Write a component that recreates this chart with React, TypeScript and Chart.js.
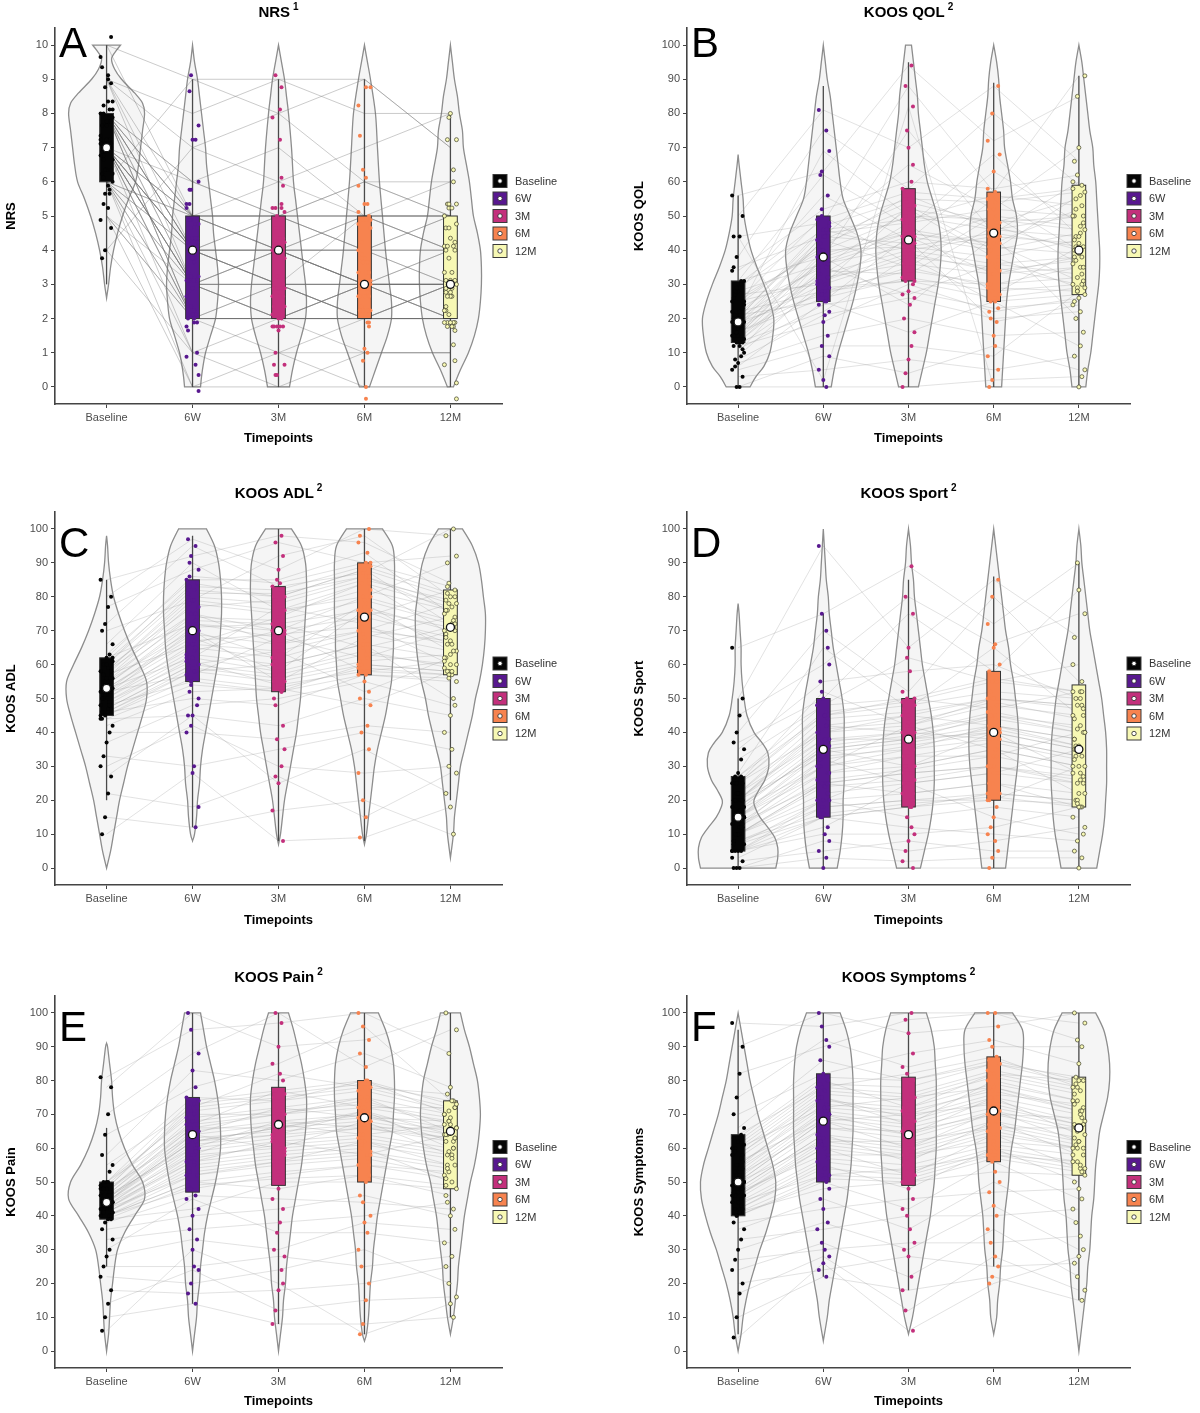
import { useEffect, useRef } from "react";
import { Chart, registerables } from "chart.js";

Chart.register(...registerables);

const FONT = "'Liberation Sans', Arial, Helvetica, sans-serif";

const timepoints = ["Baseline", "6W", "3M", "6M", "12M"];
const groupColors = ["#050505", "#58188f", "#c3307c", "#f7834f", "#f7f8b4"];

// ---- NRS (0–10). One row per patient: Baseline, 6W, 3M, 6M, 12M ----
const nrsScores = [
  [10, 9, 9, 8, 8], [10, 5, 4, 5, 5], [9, 8, 9, 9, 7], [9, 7, 8, 6, 6],
  [9, 4, 3, 3, 3], [8, 6, 7, 5, 5], [8, 5, 5, 4, 4], [8, 3, 2, 2, 2],
  [8, 2, 2, 3, 3], [8, 5, 6, 5, 5], [8, 4, 4, 3, 4], [8, 6, 5, 6, 5],
  [7, 5, 5, 5, 6], [7, 4, 3, 3, 3], [7, 3, 2, 2, 2], [7, 1, 0, 1, 1],
  [7, 5, 4, 4, 4], [7, 2, 3, 2, 3], [7, 4, 5, 5, 4], [7, 3, 3, 2, 2],
  [6, 0, 1, 0, 0], [6, 2, 2, 2, 2], [6, 3, 4, 3, 3], [6, 9, 8, 9, 7],
  [6, 5, 5, 5, 5], [6, 1, 1, 1, 1], [6, 4, 4, 4, 3], [5, 2, 2, 3, 2],
  [5, 3, 3, 2, 3], [5, 0, 0, 0, 0], [4, 1, 2, 1, 1], [4, 7, 6, 7, 8],
  [8, 4, 3, 3, 2], [8, 2, 3, 2, 3], [7, 4, 4, 3, 3], [7, 3, 4, 4, 3],
  [7, 5, 5, 4, 5], [7, 2, 2, 2, 2], [8, 3, 3, 3, 3], [6, 4, 3, 2, 2],
  [7, 4, 4, 3, 4], [8, 5, 4, 5, 4], [6, 3, 2, 2, 2], [7, 2, 2, 3, 2],
  [8, 4, 5, 4, 5], [7, 3, 3, 3, 3], [6, 2, 2, 2, 3], [9, 5, 5, 5, 5],
  [7, 4, 4, 4, 4], [8, 2, 2, 2, 2], [6, 5, 4, 3, 3], [7, 3, 4, 3, 2],
  [8, 4, 3, 5, 4], [5, 2, 1, 2, 2], [7, 6, 5, 6, 5], [9, 3, 2, 3, 3],
];
// [whisker low, Q1, median, Q3, whisker high] per timepoint
const nrsBoxStats = [
  [3, 6, 7, 8, 10], [0, 2, 4, 5, 9], [0, 2, 4, 5, 9], [0, 2, 3, 5, 9], [0, 2, 3, 5, 8],
];
// violin density profiles: [score, relative half-width]
const nrsViolins = [
  [[2.6, 0], [3, 2], [3.5, 4], [4, 7], [4.5, 11], [5, 16], [5.5, 22], [6, 29], [6.5, 32], [7, 34], [7.5, 36], [8, 38], [8.3, 36], [8.6, 28], [9, 15], [9.3, 8], [9.6, 5], [9.85, 10], [10, 14]],
  [[0, 8], [0.3, 9], [0.7, 11], [1, 13], [1.5, 18], [2, 23], [2.5, 25], [3, 26], [3.5, 25], [4, 23], [4.5, 21], [5, 20], [5.5, 18], [6, 16], [6.5, 14], [7, 13], [7.5, 11], [8, 9], [8.5, 7], [9, 5], [9.5, 2], [10, 0]],
  [[0, 11], [0.5, 14], [1, 18], [1.5, 23], [2, 27], [2.5, 28], [3, 27], [3.5, 25], [4, 23], [4.5, 21], [5, 19], [5.5, 17], [6, 15], [7, 13], [8, 10], [8.5, 8], [9, 6], [9.5, 3], [10, 0]],
  [[0, 5], [0.5, 11], [1, 17], [1.5, 23], [2, 27], [2.5, 27], [3, 25], [3.5, 23], [4, 21], [5, 18], [6, 15], [7, 13], [8, 11], [9, 6], [9.5, 3], [10, 0]],
  [[0, 3], [0.5, 10], [1, 18], [1.5, 24], [2, 28], [2.5, 30], [3, 31], [3.5, 31], [4, 30], [4.5, 27], [5, 23], [5.5, 21], [6, 19], [6.5, 16], [7, 13], [7.5, 12], [8, 9], [8.5, 7], [9, 4], [9.5, 2], [10, 0]],
];

// ---- KOOS QOL (0–100) ----
const qolScores = [
  [56, 63, 94, 72, 85], [50, 81, 70, 88, 66], [44, 48, 88, 57, 91], [38, 75, 58, 80, 59],
  [35, 44, 65, 52, 70], [31, 62, 47, 68, 44], [31, 38, 75, 45, 60], [28, 56, 43, 63, 48],
  [27, 30, 53, 40, 56], [25, 50, 36, 55, 40], [25, 41, 56, 46, 50], [22, 69, 50, 49, 46],
  [21, 25, 44, 33, 38], [20, 46, 40, 44, 42], [19, 33, 48, 27, 41], [19, 43, 35, 50, 36],
  [18, 37, 45, 42, 31], [16, 28, 31, 30, 35], [15, 40, 41, 38, 29], [14, 34, 33, 47, 40],
  [13, 22, 38, 25, 27], [13, 35, 27, 36, 33], [12, 19, 30, 22, 26], [10, 38, 24, 44, 20],
  [9, 31, 43, 19, 24], [7, 15, 20, 15, 16], [6, 25, 16, 25, 12], [5, 12, 12, 9, 28],
  [3, 5, 8, 5, 9], [0, 9, 4, 12, 5], [0, 0, 0, 2, 3], [44, 2, 82, 0, 0],
  [24, 42, 52, 48, 55], [18, 30, 38, 35, 30], [15, 45, 48, 52, 50], [28, 36, 44, 40, 45],
  [22, 28, 34, 30, 32], [13, 33, 40, 36, 38], [20, 47, 55, 54, 57], [16, 26, 32, 28, 30],
  [26, 40, 50, 46, 44], [14, 38, 46, 42, 52], [30, 49, 57, 55, 58], [17, 32, 36, 33, 35],
  [21, 44, 42, 50, 47], [19, 27, 35, 29, 28], [23, 35, 52, 38, 43], [12, 29, 31, 26, 29],
  [29, 46, 49, 56, 53], [15, 39, 45, 41, 39], [25, 31, 39, 34, 37], [18, 43, 54, 48, 50],
  [20, 36, 41, 45, 41], [8, 21, 26, 20, 22], [34, 52, 60, 58, 62], [11, 24, 28, 23, 25],
];
const qolBoxStats = [
  [0, 13, 19, 31, 56], [0, 25, 38, 50, 88], [0, 31, 43, 58, 95], [0, 25, 45, 57, 89], [0, 27, 40, 59, 91],
];
const qolViolins = [
  [[0, 12], [3, 18], [6, 26], [10, 32], [15, 35], [20, 36], [25, 32], [30, 26], [35, 19], [40, 13], [45, 9], [50, 6], [55, 5], [60, 3], [65, 1], [68, 0]],
  [[0, 8], [5, 11], [10, 15], [15, 20], [20, 25], [25, 30], [30, 34], [35, 37], [40, 38], [45, 34], [50, 27], [55, 20], [60, 17], [65, 15], [70, 13], [75, 11], [80, 9], [85, 7], [90, 4], [95, 2], [100, 0]],
  [[0, 10], [5, 14], [10, 18], [15, 21], [20, 24], [25, 27], [30, 30], [35, 32], [40, 33], [45, 32], [50, 29], [55, 24], [60, 19], [65, 16], [70, 14], [75, 12], [80, 10], [85, 9], [90, 7], [95, 5], [100, 3]],
  [[0, 8], [5, 9], [10, 10], [15, 11], [20, 12], [25, 13], [30, 15], [35, 18], [40, 21], [45, 24], [50, 23], [55, 19], [60, 17], [65, 14], [70, 11], [75, 10], [80, 8], [85, 6], [90, 5], [95, 3], [100, 0]],
  [[0, 7], [5, 9], [10, 12], [15, 14], [20, 16], [25, 18], [30, 20], [35, 21], [40, 21], [45, 20], [50, 19], [55, 18], [60, 17], [65, 15], [70, 14], [75, 11], [80, 9], [85, 7], [90, 5], [95, 3], [100, 0]],
];

// ---- KOOS ADL (0–100) ----
const adlScores = [
  [85, 92, 98, 96, 84], [80, 97, 88, 100, 98], [77, 88, 96, 90, 92], [72, 95, 83, 87, 100],
  [70, 79, 92, 98, 80], [66, 90, 76, 80, 90], [63, 85, 85, 93, 75], [62, 72, 70, 74, 82],
  [60, 82, 80, 88, 72], [58, 75, 66, 70, 78], [57, 66, 74, 84, 69], [55, 70, 62, 78, 64],
  [54, 73, 72, 65, 71], [53, 62, 77, 72, 60], [53, 68, 58, 76, 66], [52, 57, 68, 62, 70],
  [51, 70, 55, 68, 74], [50, 64, 70, 58, 57], [48, 55, 52, 60, 58], [47, 60, 64, 52, 62],
  [46, 50, 48, 57, 55], [45, 58, 60, 66, 50], [44, 45, 42, 50, 45], [42, 52, 53, 48, 58],
  [40, 40, 38, 42, 40], [37, 48, 50, 55, 48], [33, 30, 35, 40, 35], [30, 42, 30, 28, 30],
  [27, 45, 25, 35, 22], [22, 18, 27, 15, 28], [15, 12, 17, 20, 10], [10, 28, 8, 9, 18],
  [56, 78, 75, 82, 76], [49, 63, 60, 66, 62], [60, 84, 80, 88, 80], [46, 58, 55, 60, 58],
  [52, 71, 72, 76, 71], [58, 80, 78, 85, 79], [47, 60, 57, 63, 60], [55, 75, 70, 80, 73],
  [50, 66, 64, 70, 67], [61, 83, 82, 89, 81], [48, 62, 58, 64, 59], [54, 72, 68, 77, 70],
  [57, 79, 76, 84, 77], [45, 56, 53, 59, 57], [53, 69, 66, 74, 68], [59, 77, 79, 86, 78],
  [51, 65, 62, 69, 64], [46, 59, 56, 61, 63], [62, 86, 84, 90, 83], [49, 61, 54, 58, 61],
  [56, 74, 73, 79, 72], [52, 67, 69, 71, 66], [44, 54, 52, 57, 56], [58, 81, 81, 86, 76],
];
const adlBoxStats = [
  [20, 45, 53, 62, 85], [12, 55, 70, 85, 98], [8, 52, 70, 83, 100], [8, 57, 74, 90, 100], [20, 57, 71, 82, 100],
];
const adlViolins = [
  [[0, 0], [5, 4], [10, 7], [15, 10], [20, 13], [25, 17], [30, 21], [35, 26], [40, 31], [45, 36], [50, 40], [55, 40], [60, 33], [65, 25], [70, 18], [75, 12], [80, 7], [85, 4], [90, 2], [95, 1], [98, 0]],
  [[8, 0], [10, 2], [15, 4], [20, 5], [25, 7], [30, 8], [35, 10], [40, 13], [45, 16], [50, 19], [55, 22], [60, 25], [65, 27], [70, 28], [75, 29], [80, 29], [85, 28], [90, 26], [95, 22], [100, 14]],
  [[7, 0], [10, 2], [15, 4], [20, 6], [25, 9], [30, 12], [35, 15], [40, 18], [45, 20], [50, 22], [55, 23], [60, 24], [65, 25], [70, 26], [75, 27], [80, 28], [85, 28], [90, 27], [95, 23], [100, 13]],
  [[7, 0], [10, 2], [15, 4], [20, 6], [25, 8], [30, 10], [35, 13], [40, 17], [45, 21], [50, 24], [55, 27], [60, 28], [65, 29], [70, 29], [75, 30], [80, 30], [85, 30], [90, 30], [95, 28], [100, 18]],
  [[3, 0], [10, 3], [15, 4], [20, 6], [25, 8], [30, 10], [35, 14], [40, 18], [45, 22], [50, 25], [55, 29], [60, 32], [65, 34], [70, 35], [75, 35], [80, 33], [85, 31], [90, 28], [95, 22], [100, 12]],
];

// ---- KOOS Sport (0–100) ----
const sportScores = [
  [65, 75, 89, 72, 90], [50, 95, 65, 85, 68], [45, 60, 80, 66, 75], [40, 70, 52, 80, 55],
  [37, 50, 75, 58, 82], [35, 55, 58, 60, 50], [32, 48, 62, 55, 60], [28, 65, 47, 65, 45],
  [27, 45, 50, 47, 52], [25, 52, 42, 50, 48], [25, 40, 45, 42, 38], [22, 38, 38, 45, 40],
  [20, 42, 40, 38, 33], [20, 33, 35, 42, 36], [18, 35, 38, 40, 35], [17, 30, 42, 35, 30],
  [15, 28, 33, 33, 40], [15, 35, 30, 40, 28], [13, 25, 28, 30, 25], [12, 32, 25, 28, 35],
  [10, 20, 30, 35, 22], [10, 25, 22, 25, 18], [8, 18, 20, 20, 30], [7, 15, 18, 22, 20],
  [5, 20, 15, 18, 15], [5, 12, 25, 15, 10], [5, 10, 10, 12, 18], [3, 15, 12, 10, 8],
  [2, 5, 8, 5, 5], [0, 8, 5, 8, 12], [0, 3, 2, 3, 3], [0, 0, 0, 0, 0],
  [15, 30, 35, 38, 33], [20, 40, 42, 48, 45], [10, 22, 25, 28, 25], [25, 45, 48, 52, 50],
  [5, 18, 20, 22, 20], [18, 35, 38, 42, 38], [12, 28, 30, 35, 30], [22, 42, 45, 50, 48],
  [8, 16, 19, 21, 18], [15, 32, 36, 40, 35], [27, 48, 50, 56, 52], [10, 25, 28, 30, 27],
  [20, 38, 40, 45, 42], [5, 15, 18, 20, 19], [13, 30, 33, 37, 32], [17, 36, 39, 44, 40],
  [25, 46, 49, 55, 52], [7, 20, 22, 25, 22], [15, 34, 37, 41, 36], [12, 26, 29, 33, 28],
  [22, 44, 46, 50, 47], [10, 24, 26, 30, 26], [18, 37, 40, 46, 41], [20, 41, 43, 49, 44],
];
const sportBoxStats = [
  [0, 5, 15, 27, 50], [0, 15, 35, 50, 75], [0, 18, 38, 50, 85], [0, 20, 40, 58, 86], [0, 18, 35, 54, 90],
];
const sportViolins = [
  [[0, 38], [3, 40], [6, 40], [9, 37], [12, 30], [15, 22], [18, 17], [20, 16], [23, 21], [26, 27], [30, 31], [34, 30], [37, 24], [40, 16], [45, 9], [50, 6], [55, 4], [60, 3], [65, 3], [70, 2], [75, 1], [78, 0]],
  [[0, 14], [5, 17], [10, 19], [15, 20], [20, 20], [25, 21], [30, 21], [35, 21], [40, 21], [45, 21], [50, 19], [55, 16], [60, 13], [65, 10], [70, 8], [75, 6], [80, 5], [85, 3], [90, 2], [95, 1], [100, 0]],
  [[0, 12], [5, 16], [10, 20], [15, 23], [20, 25], [25, 26], [30, 26], [35, 26], [40, 25], [45, 23], [50, 20], [55, 17], [60, 14], [65, 12], [70, 10], [75, 8], [80, 6], [85, 5], [90, 3], [95, 2], [100, 0]],
  [[0, 12], [5, 14], [10, 16], [15, 18], [20, 20], [25, 22], [30, 24], [35, 25], [40, 25], [45, 24], [50, 22], [55, 20], [60, 17], [65, 15], [70, 12], [75, 10], [80, 8], [85, 6], [90, 4], [95, 2], [100, 0]],
  [[0, 18], [5, 21], [10, 24], [15, 26], [20, 27], [25, 28], [30, 28], [35, 28], [40, 27], [45, 25], [50, 23], [55, 20], [60, 17], [65, 14], [70, 11], [75, 9], [80, 7], [85, 5], [90, 3], [95, 2], [100, 0]],
];

// ---- KOOS Pain (0–100) ----
const painScores = [
  [81, 95, 97, 100, 88], [78, 100, 90, 92, 100], [70, 88, 100, 84, 95], [64, 78, 85, 96, 74],
  [58, 83, 80, 88, 78], [55, 72, 82, 78, 76], [53, 75, 74, 80, 70], [50, 67, 77, 72, 72],
  [50, 70, 70, 75, 65], [48, 64, 72, 69, 68], [47, 66, 66, 70, 62], [46, 60, 68, 66, 66],
  [45, 62, 64, 71, 60], [44, 58, 67, 64, 67], [44, 64, 60, 68, 58], [43, 56, 62, 58, 64],
  [42, 52, 56, 62, 55], [41, 55, 58, 60, 50], [40, 48, 52, 55, 53], [40, 50, 48, 52, 46],
  [39, 42, 50, 50, 48], [38, 46, 45, 44, 42], [36, 40, 42, 46, 40], [33, 36, 38, 40, 44],
  [30, 45, 35, 35, 32], [28, 33, 30, 38, 36], [25, 25, 28, 25, 28], [22, 20, 24, 30, 20],
  [18, 17, 18, 20, 25], [14, 24, 12, 15, 16], [10, 14, 8, 8, 10], [6, 30, 20, 5, 14],
  [44, 62, 66, 68, 64], [40, 52, 55, 57, 52], [48, 72, 75, 78, 72], [42, 58, 60, 62, 58],
  [46, 66, 70, 72, 68], [39, 49, 51, 52, 49], [50, 74, 77, 80, 73], [43, 60, 63, 66, 62],
  [45, 64, 67, 69, 65], [41, 54, 57, 59, 55], [47, 69, 72, 75, 70], [44, 61, 64, 66, 63],
  [42, 56, 59, 61, 57], [49, 71, 74, 77, 71], [40, 50, 53, 55, 51], [45, 65, 68, 70, 66],
  [43, 59, 62, 64, 60], [47, 68, 71, 73, 69], [41, 53, 56, 58, 54], [46, 67, 70, 74, 67],
  [44, 63, 65, 67, 63], [48, 73, 76, 79, 74], [42, 57, 61, 63, 59], [45, 62, 66, 71, 64],
];
const painBoxStats = [
  [25, 39, 44, 50, 66], [14, 47, 64, 75, 100], [8, 49, 67, 78, 100], [5, 50, 69, 80, 100], [10, 48, 65, 74, 100],
];
const painViolins = [
  [[0, 0], [5, 2], [10, 3], [15, 4], [20, 6], [25, 8], [30, 11], [35, 18], [40, 28], [45, 38], [50, 36], [55, 26], [60, 18], [65, 12], [70, 8], [75, 6], [80, 5], [85, 3], [90, 1], [91, 0]],
  [[0, 0], [5, 2], [10, 4], [15, 5], [20, 7], [25, 8], [30, 10], [35, 12], [40, 15], [45, 19], [50, 23], [55, 26], [60, 28], [65, 28], [70, 27], [75, 25], [80, 22], [85, 18], [90, 14], [95, 11], [100, 8]],
  [[0, 0], [5, 2], [10, 4], [15, 5], [20, 7], [25, 8], [30, 10], [35, 12], [40, 14], [45, 17], [50, 20], [55, 23], [60, 25], [65, 27], [70, 28], [75, 28], [80, 26], [85, 23], [90, 19], [95, 15], [100, 10]],
  [[3, 0], [5, 2], [10, 4], [15, 5], [20, 6], [25, 8], [30, 9], [35, 11], [40, 13], [45, 16], [50, 19], [55, 22], [60, 25], [65, 28], [70, 29], [75, 30], [80, 30], [85, 29], [90, 26], [95, 21], [100, 14]],
  [[5, 0], [10, 3], [15, 5], [20, 7], [25, 8], [30, 10], [35, 12], [40, 14], [45, 17], [50, 20], [55, 24], [60, 27], [65, 29], [70, 30], [75, 29], [80, 27], [85, 23], [90, 19], [95, 14], [100, 10]],
];

// ---- KOOS Symptoms (0–100) ----
const symptomScores = [
  [97, 96, 100, 100, 92], [90, 100, 94, 96, 100], [82, 90, 98, 100, 97], [75, 92, 84, 90, 90],
  [70, 82, 88, 92, 85], [66, 86, 80, 85, 81], [64, 78, 82, 87, 78], [62, 80, 72, 82, 80],
  [60, 72, 75, 78, 71], [58, 75, 67, 80, 74], [56, 68, 70, 73, 67], [54, 70, 64, 75, 64],
  [52, 66, 65, 70, 69], [50, 68, 60, 71, 62], [50, 62, 62, 66, 66], [48, 64, 56, 68, 58],
  [47, 58, 58, 62, 60], [46, 60, 52, 64, 54], [44, 52, 54, 58, 56], [42, 55, 48, 60, 50],
  [41, 48, 50, 53, 52], [40, 50, 42, 56, 45], [38, 42, 45, 47, 48], [36, 45, 36, 50, 38],
  [33, 36, 40, 40, 42], [30, 38, 30, 43, 30], [27, 30, 32, 32, 34], [24, 32, 22, 36, 22],
  [20, 24, 28, 25, 26], [17, 28, 12, 28, 18], [10, 22, 18, 22, 15], [4, 26, 6, 20, 28],
  [50, 68, 64, 71, 66], [45, 60, 57, 64, 60], [55, 72, 70, 78, 72], [42, 54, 52, 59, 55],
  [60, 78, 76, 83, 78], [48, 64, 61, 68, 63], [52, 70, 67, 74, 68], [40, 51, 50, 57, 53],
  [63, 81, 80, 86, 80], [46, 62, 59, 66, 61], [57, 74, 72, 79, 74], [44, 57, 55, 61, 58],
  [53, 71, 68, 75, 70], [49, 66, 63, 70, 65], [58, 76, 74, 81, 76], [41, 52, 51, 58, 54],
  [55, 73, 71, 77, 71], [47, 63, 60, 67, 62], [61, 79, 78, 85, 79], [43, 56, 53, 60, 56],
  [51, 69, 66, 72, 67], [59, 77, 75, 82, 77], [46, 61, 58, 65, 60], [54, 75, 69, 76, 73],
];
const symptomBoxStats = [
  [5, 40, 50, 64, 95], [22, 50, 68, 82, 100], [18, 49, 64, 81, 100], [25, 56, 71, 87, 100], [15, 52, 66, 81, 100],
];
const symptomViolins = [
  [[0, 0], [5, 3], [10, 5], [15, 8], [20, 12], [25, 17], [30, 22], [35, 28], [40, 33], [45, 37], [50, 38], [55, 35], [60, 30], [65, 25], [70, 20], [75, 16], [80, 12], [85, 9], [90, 6], [95, 3], [100, 0]],
  [[3, 0], [10, 4], [15, 6], [20, 9], [25, 12], [30, 15], [35, 18], [40, 21], [45, 24], [50, 26], [55, 28], [60, 29], [65, 30], [70, 30], [75, 30], [80, 30], [85, 29], [90, 27], [95, 23], [100, 17]],
  [[5, 0], [10, 4], [15, 7], [20, 10], [25, 13], [30, 16], [35, 19], [40, 22], [45, 24], [50, 26], [55, 27], [60, 28], [65, 28], [70, 28], [75, 28], [80, 28], [85, 27], [90, 26], [95, 23], [100, 18]],
  [[5, 0], [10, 3], [15, 4], [20, 6], [25, 7], [30, 9], [35, 10], [40, 11], [45, 13], [50, 15], [55, 16], [60, 18], [65, 21], [70, 23], [75, 25], [80, 27], [85, 29], [90, 30], [95, 29], [100, 19]],
  [[0, 0], [5, 2], [10, 4], [15, 6], [20, 8], [25, 9], [30, 11], [35, 12], [40, 13], [45, 15], [50, 16], [55, 17], [60, 19], [65, 21], [70, 25], [75, 29], [80, 31], [85, 31], [90, 29], [95, 25], [100, 17]],
];

type Panel = {
  letter: string;
  title: string;
  note: string;
  yTitle: string;
  yMax: number;
  yStep: number;
  scores: number[][];
  boxStats: number[][];
  violins: number[][][];
  jitterY: number;
  lineColor: string;
};

const panels: Panel[] = [
  { letter: "A", title: "NRS", note: "1", yTitle: "NRS", yMax: 10, yStep: 1, scores: nrsScores, boxStats: nrsBoxStats, violins: nrsViolins, jitterY: 0.35, lineColor: "rgba(110,110,110,0.36)" },
  { letter: "B", title: "KOOS QOL", note: "2", yTitle: "KOOS QOL", yMax: 100, yStep: 10, scores: qolScores, boxStats: qolBoxStats, violins: qolViolins, jitterY: 0, lineColor: "rgba(150,150,150,0.28)" },
  { letter: "C", title: "KOOS ADL", note: "2", yTitle: "KOOS ADL", yMax: 100, yStep: 10, scores: adlScores, boxStats: adlBoxStats, violins: adlViolins, jitterY: 0, lineColor: "rgba(150,150,150,0.28)" },
  { letter: "D", title: "KOOS Sport", note: "2", yTitle: "KOOS Sport", yMax: 100, yStep: 10, scores: sportScores, boxStats: sportBoxStats, violins: sportViolins, jitterY: 0, lineColor: "rgba(150,150,150,0.28)" },
  { letter: "E", title: "KOOS Pain", note: "2", yTitle: "KOOS Pain", yMax: 100, yStep: 10, scores: painScores, boxStats: painBoxStats, violins: painViolins, jitterY: 0, lineColor: "rgba(150,150,150,0.28)" },
  { letter: "F", title: "KOOS Symptoms", note: "2", yTitle: "KOOS Symptoms", yMax: 100, yStep: 10, scores: symptomScores, boxStats: symptomBoxStats, violins: symptomViolins, jitterY: 0, lineColor: "rgba(150,150,150,0.28)" },
];

// page layout of the 2 x 3 grid
const columns = [
  { left: 0, width: 600, yAxisWidth: 55, padRight: 98, legendX: 493 },
  { left: 628, width: 572, yAxisWidth: 59, padRight: 70, legendX: 499 },
];
const rows = [
  { top: 0, height: 450, padTop: 28, xAxisHeight: 46, titleY: 13, letterBase: 57 },
  { top: 470, height: 462, padTop: 42, xAxisHeight: 47, titleY: 24, letterBase: 87 },
  { top: 960, height: 453, padTop: 36, xAxisHeight: 45, titleY: 18, letterBase: 81 },
];

const VIOLIN_UNIT = 86; // density units per category step
const BOX_HALF = 0.08; // box half-width in category units

function curveThrough(ctx: CanvasRenderingContext2D, pts: number[][]) {
  for (let i = 0; i < pts.length - 1; i++) {
    const p0 = pts[Math.max(0, i - 1)];
    const p1 = pts[i];
    const p2 = pts[i + 1];
    const p3 = pts[Math.min(pts.length - 1, i + 2)];
    ctx.bezierCurveTo(
      p1[0] + (p2[0] - p0[0]) / 6, p1[1] + (p2[1] - p0[1]) / 6,
      p2[0] - (p3[0] - p1[0]) / 6, p2[1] - (p3[1] - p1[1]) / 6,
      p2[0], p2[1]
    );
  }
}

const jitterX = (p: number, i: number) => ((((p * 7 + i * 3) % 9) - 4) / 4) * 0.07;
const jitterY = (p: number, i: number) => (((p * 5 + i * 4) % 7) - 3) / 3;

function PanelChart({ spec, col, row }: { spec: Panel; col: typeof columns[0]; row: typeof rows[0] }) {
  const ref = useRef<HTMLCanvasElement>(null);

  useEffect(() => {
    if (!ref.current) return;
    const yMin = -0.05 * spec.yMax;
    const yMaxR = spec.yMax * 1.05;

    const violinPlugin = {
      id: "violins",
      beforeDatasetsDraw(chart: any) {
        const { ctx, scales } = chart;
        const xs = scales.x;
        const ys = scales.y;
        const k = (xs.getPixelForValue(1) - xs.getPixelForValue(0)) / VIOLIN_UNIT;
        ctx.save();
        spec.violins.forEach((prof, i) => {
          const cx = xs.getPixelForValue(i);
          const right = prof.map(([v, w]) => [cx + w * k, ys.getPixelForValue(v)]);
          const left = prof.map(([v, w]) => [cx - w * k, ys.getPixelForValue(v)]).reverse();
          ctx.beginPath();
          ctx.moveTo(left[left.length - 1][0], left[left.length - 1][1]);
          ctx.lineTo(right[0][0], right[0][1]);
          curveThrough(ctx, right);
          ctx.lineTo(left[0][0], left[0][1]);
          curveThrough(ctx, left);
          ctx.closePath();
          ctx.fillStyle = "rgba(120,120,120,0.07)";
          ctx.fill();
          ctx.lineWidth = 1.3;
          ctx.strokeStyle = "#8d8d8d";
          ctx.stroke();
        });
        ctx.restore();
      },
    };

    const boxPlugin = {
      id: "boxes",
      beforeDatasetDraw(chart: any, args: any) {
        if (args.index !== 1) return;
        const { ctx, scales } = chart;
        const xs = scales.x;
        const ys = scales.y;
        const half = (xs.getPixelForValue(1) - xs.getPixelForValue(0)) * BOX_HALF;
        ctx.save();
        spec.boxStats.forEach(([lo, q1, , q3, hi], i) => {
          const cx = xs.getPixelForValue(i);
          ctx.beginPath();
          ctx.moveTo(cx, ys.getPixelForValue(lo));
          ctx.lineTo(cx, ys.getPixelForValue(hi));
          ctx.strokeStyle = "#4a4a4a";
          ctx.lineWidth = 1.3;
          ctx.stroke();
          const top = ys.getPixelForValue(q3);
          const bottom = ys.getPixelForValue(q1);
          ctx.fillStyle = groupColors[i];
          ctx.fillRect(cx - half, top, half * 2, bottom - top);
          ctx.strokeStyle = "#333";
          ctx.lineWidth = 1;
          ctx.strokeRect(cx - half, top, half * 2, bottom - top);
        });
        ctx.restore();
      },
    };

    const decorPlugin = {
      id: "decor",
      afterDraw(chart: any) {
        const { ctx, chartArea } = chart;
        ctx.save();
        // panel title with superscript note
        ctx.fillStyle = "#000";
        ctx.textBaseline = "middle";
        ctx.font = `bold 15px ${FONT}`;
        const mainW = ctx.measureText(spec.title).width;
        ctx.font = `bold 10px ${FONT}`;
        const noteW = ctx.measureText(spec.note).width;
        const total = mainW + 3 + noteW;
        const cx = (chartArea.left + chartArea.right) / 2;
        const x0 = cx - total / 2;
        ctx.textAlign = "left";
        ctx.font = `bold 15px ${FONT}`;
        ctx.fillText(spec.title, x0, row.titleY);
        ctx.font = `bold 10px ${FONT}`;
        ctx.fillText(spec.note, x0 + mainW + 3, row.titleY - 6);

        // panel letter
        ctx.font = `42px ${FONT}`;
        ctx.textBaseline = "alphabetic";
        ctx.fillText(spec.letter, chartArea.left + 4, row.letterBase);

        // legend
        const midY = (chartArea.top + chartArea.bottom) / 2;
        ctx.font = `11px ${FONT}`;
        ctx.textBaseline = "middle";
        timepoints.forEach((label, i) => {
          const y = midY + (i - 2) * 17.5;
          ctx.fillStyle = groupColors[i];
          ctx.fillRect(col.legendX, y - 6.5, 14, 13);
          ctx.strokeStyle = "#3a3a3a";
          ctx.lineWidth = 1;
          ctx.strokeRect(col.legendX, y - 6.5, 14, 13);
          ctx.beginPath();
          ctx.arc(col.legendX + 7, y, 2.2, 0, Math.PI * 2);
          ctx.fillStyle = "#fff";
          ctx.fill();
          ctx.strokeStyle = "#222";
          ctx.lineWidth = 0.8;
          ctx.stroke();
          ctx.fillStyle = "#333";
          ctx.fillText(label, col.legendX + 22, y + 0.5);
        });
        ctx.restore();
      },
    };

    const pointData: { x: number; y: number }[] = [];
    const pointFill: string[] = [];
    const pointEdge: string[] = [];
    const pointEdgeW: number[] = [];
    spec.scores.forEach((patient, p) => {
      patient.forEach((v, i) => {
        pointData.push({ x: i + jitterX(p, i), y: v + spec.jitterY * jitterY(p, i) });
        pointFill.push(groupColors[i]);
        pointEdge.push(i === 4 ? "rgba(60,60,40,0.85)" : groupColors[i]);
        pointEdgeW.push(i === 4 ? 0.8 : 0);
      });
    });

    const datasets: any[] = [
      {
        data: spec.boxStats.map((b, i) => ({ x: i, y: b[2] })),
        showLine: false,
        pointRadius: 4,
        pointBackgroundColor: "#fff",
        pointBorderColor: "#111",
        pointBorderWidth: 1.3,
      },
      {
        data: pointData,
        showLine: false,
        pointRadius: 2,
        pointBackgroundColor: pointFill,
        pointBorderColor: pointEdge,
        pointBorderWidth: pointEdgeW,
      },
      ...spec.scores.map((patient) => ({
        data: patient.map((v, i) => ({ x: i, y: v })),
        showLine: true,
        borderColor: spec.lineColor,
        borderWidth: 1,
        pointRadius: 0,
        tension: 0,
        fill: false,
      })),
    ];

    const tickFont = { family: FONT, size: 11 };
    const titleFont = { family: FONT, size: 13, weight: "bold" as const };

    const chart = new Chart(ref.current, {
      type: "scatter",
      data: { datasets },
      plugins: [violinPlugin, boxPlugin, decorPlugin],
      options: {
        responsive: false,
        animation: false,
        devicePixelRatio: 1,
        events: [],
        layout: { padding: { top: row.padTop, right: col.padRight, left: 0, bottom: 0 } },
        plugins: { legend: { display: false }, tooltip: { enabled: false }, title: { display: false } },
        scales: {
          x: {
            type: "linear",
            min: -0.6,
            max: 4.6,
            afterBuildTicks: (s: any) => {
              s.ticks = timepoints.map((_, i) => ({ value: i }));
            },
            afterFit: (s: any) => {
              s.height = row.xAxisHeight;
            },
            ticks: {
              callback: (v: any) => timepoints[v as number] ?? "",
              font: tickFont,
              color: "#4d4d4d",
              padding: 3,
              maxRotation: 0,
              autoSkip: false,
            },
            grid: { display: true, drawOnChartArea: false, drawTicks: true, tickLength: 4, color: "#444", lineWidth: 1 },
            border: { display: true, color: "#444", width: 1.6 },
            title: { display: true, text: "Timepoints", font: titleFont, color: "#000", padding: { top: 2, bottom: 4 } },
          },
          y: {
            type: "linear",
            min: yMin,
            max: yMaxR,
            afterBuildTicks: (s: any) => {
              const t: { value: number }[] = [];
              for (let v = 0; v <= spec.yMax + 1e-9; v += spec.yStep) t.push({ value: v });
              s.ticks = t;
            },
            afterFit: (s: any) => {
              s.width = col.yAxisWidth;
            },
            ticks: {
              callback: (v: any) => String(Math.round(v as number)),
              font: tickFont,
              color: "#4d4d4d",
              padding: 3,
            },
            grid: { display: true, drawOnChartArea: false, drawTicks: true, tickLength: 4, color: "#444", lineWidth: 1 },
            border: { display: true, color: "#444", width: 1.6 },
            title: { display: true, text: spec.yTitle, font: titleFont, color: "#000", padding: { top: 4, bottom: 4 } },
          },
        },
      },
    } as any);

    return () => chart.destroy();
  }, [spec, col, row]);

  return (
    <canvas
      ref={ref}
      width={col.width}
      height={row.height}
      style={{ position: "absolute", left: col.left, top: row.top, width: col.width, height: row.height }}
    />
  );
}

export default function App() {
  return (
    <div style={{ position: "absolute", left: 0, top: 0, width: 1200, height: 1413, background: "#fff", overflow: "hidden" }}>
      {panels.map((spec, idx) => (
        <PanelChart key={spec.letter} spec={spec} col={columns[idx % 2]} row={rows[Math.floor(idx / 2)]} />
      ))}
    </div>
  );
}
